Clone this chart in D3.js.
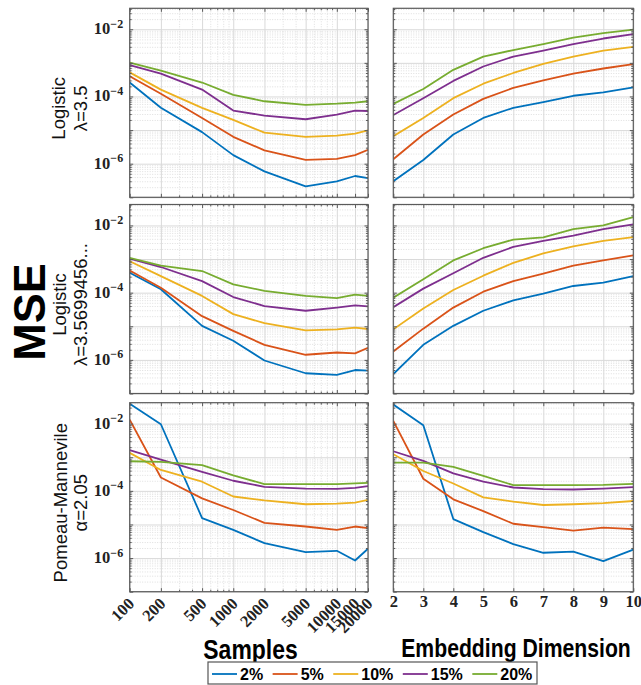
<!DOCTYPE html>
<html><head><meta charset="utf-8">
<script src="https://cdn.jsdelivr.net/npm/d3@7"></script>
<style>body{margin:0;background:#fff} svg{display:block}</style>
</head><body>
<svg id="c" width="641" height="685"></svg>
<script>
// ---------------- data ----------------
const seriesNames = ["2%", "5%", "10%", "15%", "20%"];
const seriesColors = ["#0072BD", "#D95319", "#EDB120", "#7E2F8E", "#77AC30"];
const sampleTicks = [100, 200, 500, 1000, 2000, 5000, 10000, 15000, 20000];
const dimTicks = [2, 3, 4, 5, 6, 7, 8, 9, 10];
const yLabelExponents = [-2, -4, -6];
const rowTitles = [["Logistic", "λ=3.5"], ["Logistic", "λ=3.5699456..."], ["Pomeau-Mannevile", "α=2.05"]];

// Logistic λ=3.5, vs samples (2%,5%,10%,15%,20%)
const log35Samples = [
  [2.6e-4, 4.6e-5, 8.7e-6, 1.8e-6, 5.9e-7, 2.1e-7, 3.0e-7, 4.3e-7, 3.7e-7],
  [4.0e-4, 1.2e-4, 2.3e-5, 6.3e-6, 2.5e-6, 1.3e-6, 1.4e-6, 1.8e-6, 2.6e-6],
  [5.2e-4, 1.6e-4, 4.6e-5, 2.0e-5, 8.4e-6, 6.3e-6, 6.8e-6, 7.8e-6, 9.8e-6],
  [8.5e-4, 4.8e-4, 1.6e-4, 3.8e-5, 2.7e-5, 2.1e-5, 2.9e-5, 3.8e-5, 3.7e-5],
  [1.02e-3, 5.9e-4, 2.6e-4, 1.12e-4, 7.2e-5, 5.6e-5, 6.1e-5, 6.6e-5, 7.2e-5]
];
// Logistic λ=3.5, vs embedding dimension
const log35Dims = [
  [3.0e-7, 1.29e-6, 7.4e-6, 2.3e-5, 4.6e-5, 6.8e-5, 1.05e-4, 1.32e-4, 1.86e-4],
  [1.36e-6, 7.4e-6, 2.9e-5, 8.5e-5, 1.8e-4, 3.0e-4, 4.8e-4, 6.8e-4, 9.2e-4],
  [6.6e-6, 2.3e-5, 8.9e-5, 2.4e-4, 5.0e-4, 9.3e-4, 1.54e-3, 2.3e-3, 3.0e-3],
  [2.8e-5, 8.9e-5, 2.9e-4, 7.8e-4, 1.54e-3, 2.3e-3, 3.6e-3, 5.3e-3, 7.2e-3],
  [6.0e-5, 1.67e-4, 6.2e-4, 1.54e-3, 2.4e-3, 3.6e-3, 5.6e-3, 7.7e-3, 9.7e-3]
];
// Logistic λ=3.5699456..., vs samples
const logOnsetSamples = [
  [3.9e-4, 1.26e-4, 1.03e-5, 3.7e-6, 9.6e-7, 4.0e-7, 3.6e-7, 5.0e-7, 4.8e-7],
  [4.55e-4, 1.4e-4, 2.0e-5, 7.3e-6, 2.8e-6, 1.42e-6, 1.66e-6, 1.57e-6, 2.3e-6],
  [8.6e-4, 3.1e-4, 8.0e-5, 2.3e-5, 1.24e-5, 7.6e-6, 8.1e-6, 9.1e-6, 8.3e-6],
  [1.03e-3, 5.8e-4, 2.2e-4, 7.4e-5, 4.0e-5, 2.9e-5, 3.6e-5, 4.2e-5, 3.9e-5],
  [1.09e-3, 6.4e-4, 4.4e-4, 1.77e-4, 1.13e-4, 8.0e-5, 6.9e-5, 8.7e-5, 8.0e-5]
];
// Logistic λ=3.5699456..., vs embedding dimension
const logOnsetDims = [
  [3.8e-7, 2.8e-6, 1.03e-5, 2.9e-5, 5.9e-5, 9.3e-5, 1.58e-4, 2.0e-4, 3.1e-4],
  [1.78e-6, 8.5e-6, 3.6e-5, 1.07e-4, 2.2e-4, 3.7e-4, 6.4e-4, 9.2e-4, 1.29e-3],
  [8.1e-6, 3.4e-5, 1.2e-4, 3.2e-4, 7.7e-4, 1.48e-3, 2.4e-3, 3.5e-3, 4.5e-3],
  [3.7e-5, 1.32e-4, 3.8e-4, 1.09e-3, 2.3e-3, 3.5e-3, 5.0e-3, 7.8e-3, 1.07e-2],
  [7.1e-5, 2.5e-4, 9.1e-4, 2.1e-3, 3.8e-3, 4.4e-3, 7.8e-3, 1.0e-2, 1.78e-2]
];
// Pomeau-Manneville α=2.05, vs samples
const pmSamples = [
  [3.9e-2, 9.6e-3, 1.55e-5, 6.9e-6, 2.8e-6, 1.5e-6, 1.65e-6, 8.5e-7, 1.9e-6],
  [1.32e-2, 2.5e-4, 6.0e-5, 2.7e-5, 1.12e-5, 8.7e-6, 6.9e-6, 8.7e-6, 7.8e-6],
  [1.35e-3, 4.2e-4, 1.87e-4, 6.8e-5, 5.2e-5, 4.0e-5, 4.2e-5, 4.5e-5, 5.4e-5],
  [1.62e-3, 8.5e-4, 3.7e-4, 2.0e-4, 1.32e-4, 1.17e-4, 1.14e-4, 1.23e-4, 1.38e-4],
  [7.6e-4, 7.3e-4, 5.8e-4, 2.9e-4, 1.59e-4, 1.59e-4, 1.59e-4, 1.66e-4, 1.74e-4]
];
// Pomeau-Manneville α=2.05, vs embedding dimension
const pmDims = [
  [3.7e-2, 8.9e-3, 1.45e-5, 5.9e-6, 2.6e-6, 1.44e-6, 1.55e-6, 8.1e-7, 1.78e-6],
  [1.2e-2, 2.3e-4, 5.6e-5, 2.5e-5, 1.05e-5, 8.3e-6, 6.6e-6, 8.1e-6, 7.3e-6],
  [1.23e-3, 3.9e-4, 1.66e-4, 6.4e-5, 4.8e-5, 3.8e-5, 4.0e-5, 4.3e-5, 5.0e-5],
  [1.51e-3, 7.8e-4, 3.3e-4, 1.87e-4, 1.26e-4, 1.12e-4, 1.1e-4, 1.17e-4, 1.29e-4],
  [6.9e-4, 6.9e-4, 5.2e-4, 2.8e-4, 1.48e-4, 1.48e-4, 1.48e-4, 1.5e-4, 1.62e-4]
];

// ---------------- layout ----------------
const svg = d3.select("#c");
const leftX = [129.7, 368], rightX = [393.3, 633.3];
const rowTops = [8.3, 204.5, 402.7], rowH = 189;
const yDomain = [1e-7, 0.042];
const gridMajor = "#d9d9d9", gridMinor = "#dedede", boxColor = "#5a5a5a";
const serif = "'Liberation Serif','Times New Roman',serif";
const sans = "'Liberation Sans',Arial,sans-serif";

const panels = [
  { row: 0, col: 0, data: log35Samples }, { row: 0, col: 1, data: log35Dims },
  { row: 1, col: 0, data: logOnsetSamples }, { row: 1, col: 1, data: logOnsetDims },
  { row: 2, col: 0, data: pmSamples }, { row: 2, col: 1, data: pmDims }
];

const decades = d3.range(-7, -1).map(k => Math.pow(10, k));
const minorY = [];
for (let k = -7; k <= -2; k++) for (let m = 2; m <= 9; m++) { const v = m * Math.pow(10, k); if (v < yDomain[1]) minorY.push(v); }
const minorSamples = [300, 400, 600, 700, 800, 900, 3000, 4000, 6000, 7000, 8000, 9000];

panels.forEach((p, i) => {
  const xr = p.col === 0 ? leftX : rightX;
  const top = rowTops[p.row], bot = top + rowH;
  const x = p.col === 0
    ? d3.scaleLog().domain([100, 20000]).range(xr)
    : d3.scaleLinear().domain([2, 10]).range(xr);
  const y = d3.scaleLog().domain(yDomain).range([bot, top]);
  const w = xr[1] - xr[0];
  const g = svg.append("g");

  // minor horizontal grid
  g.append("g").attr("transform", `translate(${xr[0]},0)`)
    .call(d3.axisLeft(y).tickValues(minorY).tickSize(-w).tickFormat(""))
    .call(a => { a.select(".domain").remove(); a.selectAll("line").attr("stroke", gridMinor).attr("stroke-dasharray", "1,1.5"); });
  // major horizontal grid
  g.append("g").attr("transform", `translate(${xr[0]},0)`)
    .call(d3.axisLeft(y).tickValues(decades).tickSize(-w).tickFormat(""))
    .call(a => { a.select(".domain").remove(); a.selectAll("line").attr("stroke", gridMajor); });
  // vertical grid
  if (p.col === 0) {
    g.append("g").attr("transform", `translate(0,${bot})`)
      .call(d3.axisBottom(x).tickValues(minorSamples).tickSize(-rowH).tickFormat(""))
      .call(a => { a.select(".domain").remove(); a.selectAll("line").attr("stroke", gridMinor).attr("stroke-dasharray", "1,1.5"); });
    g.append("g").attr("transform", `translate(0,${bot})`)
      .call(d3.axisBottom(x).tickValues(sampleTicks).tickSize(-rowH).tickFormat(""))
      .call(a => { a.select(".domain").remove(); a.selectAll("line").attr("stroke", gridMajor); });
  } else {
    g.append("g").attr("transform", `translate(0,${bot})`)
      .call(d3.axisBottom(x).tickValues(dimTicks).tickSize(-rowH).tickFormat(""))
      .call(a => { a.select(".domain").remove(); a.selectAll("line").attr("stroke", gridMajor); });
  }

  // lines
  const clipId = "clip" + i;
  svg.append("clipPath").attr("id", clipId).append("rect")
    .attr("x", xr[0]).attr("y", top).attr("width", w).attr("height", rowH);
  const xs = p.col === 0 ? sampleTicks : dimTicks;
  const line = d3.line().x((d, j) => x(xs[j])).y(d => y(d));
  g.append("g").attr("clip-path", `url(#${clipId})`)
    .selectAll("path").data(p.data).join("path")
    .attr("d", line).attr("fill", "none")
    .attr("stroke", (d, j) => seriesColors[j]).attr("stroke-width", 1.8)
    .attr("stroke-linejoin", "round");

  // tick marks (inward) on all four sides
  const tickStyle = a => { a.select(".domain").remove(); a.selectAll("line").attr("stroke", boxColor); };
  [[xr[0], d3.axisRight], [xr[1], d3.axisLeft]].forEach(([tx, ax]) => {
    g.append("g").attr("transform", `translate(${tx},0)`).call(ax(y).tickValues(decades).tickSize(3.5).tickFormat("")).call(tickStyle);
    g.append("g").attr("transform", `translate(${tx},0)`).call(ax(y).tickValues(minorY).tickSize(2).tickFormat("")).call(tickStyle);
  });
  const xt = p.col === 0 ? sampleTicks : dimTicks;
  [[top, d3.axisBottom], [bot, d3.axisTop]].forEach(([ty, ax]) => {
    g.append("g").attr("transform", `translate(0,${ty})`).call(ax(x).tickValues(xt).tickSize(3.5).tickFormat("")).call(tickStyle);
    if (p.col === 0) g.append("g").attr("transform", `translate(0,${ty})`).call(ax(x).tickValues(minorSamples).tickSize(2).tickFormat("")).call(tickStyle);
  });

  // box
  g.append("rect").attr("x", xr[0]).attr("y", top).attr("width", w).attr("height", rowH)
    .attr("fill", "none").attr("stroke", boxColor).attr("stroke-width", 1.2);

  // y tick labels (left column)
  if (p.col === 0) {
    yLabelExponents.forEach(e => {
      const t = g.append("text").attr("x", xr[0] - 6.5).attr("y", y(Math.pow(10, e)) + 5)
        .attr("text-anchor", "end").attr("font-family", serif).attr("font-weight", "bold")
        .attr("font-size", 16.5).attr("fill", "#222");
      t.append("tspan").text("10");
      t.append("tspan").attr("font-size", 12).attr("dy", -6.5).text("−" + Math.abs(e));
    });
  }
  // x tick labels (bottom row)
  if (p.row === 2) {
    if (p.col === 0) {
      sampleTicks.forEach(v => {
        g.append("text").attr("transform", `translate(${x(v) + 1.5},${bot + 9}) rotate(-45)`)
          .attr("text-anchor", "end").attr("dy", "0.35em")
          .attr("font-family", serif).attr("font-weight", "bold").attr("font-size", 16.5)
          .attr("fill", "#222").text(v);
      });
    } else {
      g.append("g").attr("transform", `translate(0,${bot})`)
        .call(d3.axisBottom(x).tickValues(dimTicks).tickSize(0).tickPadding(4).tickFormat(d3.format("d")))
        .call(a => {
          a.select(".domain").remove();
          a.selectAll("text").attr("font-family", serif).attr("font-weight", "bold")
            .attr("font-size", 16.5).attr("fill", "#222");
        });
    }
  }
});

// row titles
const baselines = [[65, 86.5], [66, 87], [66.5, 87]];
rowTitles.forEach((tt, r) => {
  const cy = rowTops[r] + rowH / 2 + 5.5;
  tt.forEach((s, k) => {
    svg.append("text").attr("transform", `translate(${baselines[r][k]},${cy}) rotate(-90)`)
      .attr("text-anchor", "middle").attr("font-family", sans).attr("font-size", 18.5)
      .attr("fill", "#111").text(s);
  });
});

// MSE
svg.append("text").attr("transform", "translate(45,312) rotate(-90)")
  .attr("text-anchor", "middle").attr("font-family", sans).attr("font-weight", "bold")
  .attr("font-size", 45).attr("fill", "#000").text("MSE");

// axis titles (horizontally condensed like the reference)
svg.append("text").attr("transform", "translate(250.5,659) scale(0.85,1)").attr("text-anchor", "middle")
  .attr("font-family", sans).attr("font-weight", "bold").attr("font-size", 27)
  .attr("fill", "#000").text("Samples");
svg.append("text").attr("transform", "translate(516,657) scale(0.8,1)").attr("text-anchor", "middle")
  .attr("font-family", sans).attr("font-weight", "bold").attr("font-size", 26.5)
  .attr("fill", "#000").text("Embedding Dimension");

// legend
const lg = svg.append("g");
lg.append("rect").attr("x", 208).attr("y", 662).attr("width", 329).attr("height", 22)
  .attr("fill", "#fff").attr("stroke", "#555").attr("stroke-width", 1.2);
let lx = 212;
seriesNames.forEach((s, j) => {
  lg.append("line").attr("x1", lx).attr("x2", lx + 25).attr("y1", 674).attr("y2", 674)
    .attr("stroke", seriesColors[j]).attr("stroke-width", 1.8);
  const t = lg.append("text").attr("x", lx + 28).attr("y", 680).attr("font-family", sans)
    .attr("font-weight", "bold").attr("font-size", 16).attr("fill", "#000").text(s);
  lx += 28 + t.node().getComputedTextLength() + 9.5;
});
</script>
</body></html>
